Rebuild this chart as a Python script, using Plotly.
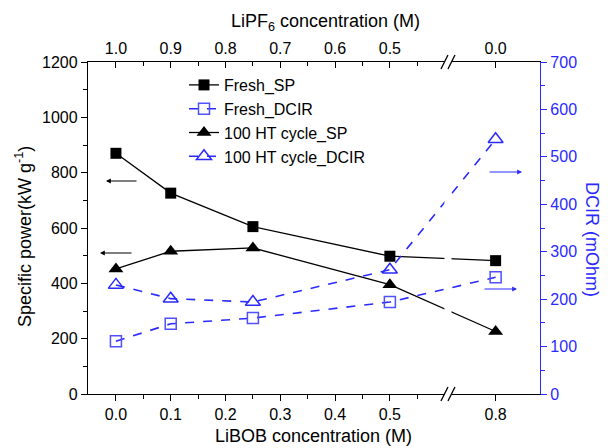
import plotly.graph_objects as go

# ---- data ----
libob = [0.0, 0.1, 0.25, 0.5, 0.8]
fresh_sp = [870, 726, 605, 498, 482]
ht_sp = [452, 516, 528, 395, 226]
fresh_dcir = [111, 148, 160, 194, 246]
ht_dcir = [230, 201, 194, 262, 537]

bottom_ticks = [0.0, 0.1, 0.2, 0.3, 0.4, 0.5, 0.8]
bottom_labels = ["0.0", "0.1", "0.2", "0.3", "0.4", "0.5", "0.8"]
top_labels = ["1.0", "0.9", "0.8", "0.7", "0.6", "0.5", "0.0"]

# axis break: values above 0.6 are shifted left
BREAK_AT = 0.606
SHIFT = 0.107
def xpos(v):
    return v if v <= 0.6 else v - SHIFT

X = [xpos(v) for v in libob]
TV = [xpos(v) for v in bottom_ticks]

L, R, T, B = 88, 68, 62, 54
W, H = 608, 448
PW, PH = W - L - R, H - T - B
def px(x):
    return (x - L) / PW
def py(y):
    return (H - B - y) / PH

BLUE = "#2a2aff"
FONT = "Liberation Sans, Arial, sans-serif"

fig = go.Figure()
fig.add_trace(go.Scatter(x=X, y=fresh_sp, name="Fresh_SP", mode="lines+markers",
                         line=dict(color="black", width=1.3),
                         marker=dict(symbol="square", size=11, color="black")))
fig.add_trace(go.Scatter(x=X, y=fresh_dcir, name="Fresh_DCIR", mode="lines+markers", yaxis="y2",
                         line=dict(color=BLUE, width=1.6, dash="dash"),
                         marker=dict(symbol="square-open", size=11, color="#5050ff", line=dict(width=1.5))))
fig.add_trace(go.Scatter(x=X, y=ht_sp, name="100 HT cycle_SP", mode="lines+markers",
                         line=dict(color="black", width=1.3),
                         marker=dict(symbol="triangle-up", size=13, color="black")))
fig.add_trace(go.Scatter(x=X, y=ht_dcir, name="100 HT cycle_DCIR", mode="lines+markers", yaxis="y2",
                         line=dict(color=BLUE, width=1.6, dash="dash"),
                         marker=dict(symbol="triangle-up-open", size=13, color=BLUE, line=dict(width=1.5))))
# invisible trace to activate top axis
fig.add_trace(go.Scatter(x=[TV[0], TV[-1]], y=[None, None], xaxis="x2", showlegend=False,
                         hoverinfo="skip"))

tickfont = dict(family=FONT, size=16, color="black")
xr = [-0.051, 0.774]
minor_vals = [0.05, 0.15, 0.25, 0.35, 0.45, 0.55]

fig.update_layout(
    width=W, height=H,
    margin=dict(l=L, r=R, t=T, b=B),
    paper_bgcolor="white", plot_bgcolor="white",
    font=dict(family=FONT, size=16, color="black"),
    xaxis=dict(range=xr, tickmode="array", tickvals=TV, ticktext=bottom_labels,
               showline=True, linecolor="black", linewidth=1.3, ticks="outside",
               ticklen=6, tickwidth=1.2, tickcolor="black", showgrid=False, zeroline=False,
               tickfont=tickfont,
               minor=dict(tickmode="array", tickvals=minor_vals, ticks="outside", ticklen=4,
                          tickcolor="black", tickwidth=1.2, showgrid=False)),
    xaxis2=dict(range=xr, overlaying="x", side="top", tickmode="array", tickvals=TV,
                ticktext=top_labels, showline=True, linecolor="black", linewidth=1.3,
                ticks="inside", ticklen=6, tickwidth=1.2, tickcolor="black", showgrid=False,
                zeroline=False, tickfont=tickfont,
                minor=dict(tickmode="array", tickvals=minor_vals, ticks="inside", ticklen=4,
                           tickcolor="black", tickwidth=1.2, showgrid=False)),
    yaxis=dict(range=[0, 1200], dtick=200, showline=True, linecolor="black", linewidth=1.3,
               ticks="outside", ticklen=6, tickwidth=1.2, tickcolor="black", showgrid=False,
               zeroline=False, tickfont=tickfont,
               minor=dict(dtick=100, ticks="outside", ticklen=4, tickcolor="black",
                          tickwidth=1.2, showgrid=False)),
    yaxis2=dict(range=[0, 700], dtick=100, overlaying="y", side="right", showline=True,
                linecolor=BLUE, linewidth=1.3, ticks="outside", ticklen=6, tickwidth=1.2,
                tickcolor=BLUE, showgrid=False, zeroline=False,
                tickfont=dict(family=FONT, size=16, color=BLUE),
                minor=dict(dtick=50, ticks="outside", ticklen=4, tickcolor=BLUE,
                           tickwidth=1.2, showgrid=False)),
    legend=dict(x=px(184), y=py(68), xanchor="left", yanchor="top",
                bgcolor="rgba(0,0,0,0)", font=dict(family=FONT, size=16, color="black"),
                tracegroupgap=0, itemwidth=30),
    showlegend=True,
)

# axis titles
ann = [
    dict(text="LiBOB concentration (M)", x=px(313), y=py(436), font=dict(size=18)),
    dict(text="LiPF<sub>6</sub> concentration (M)", x=px(325), y=py(22), font=dict(size=18)),
    dict(text="Specific power(kW g<sup>-1</sup>)", x=px(23), y=py(237), textangle=-90, font=dict(size=18)),
    dict(text="DCIR (mOhm)", x=px(592), y=py(239), textangle=90, font=dict(size=18, color=BLUE)),
]
for a in ann:
    fig.add_annotation(xref="paper", yref="paper", showarrow=False, xanchor="center",
                       yanchor="middle", font=dict(family=FONT, size=a["font"]["size"],
                                                   color=a["font"].get("color", "black")),
                       text=a["text"], x=a["x"], y=a["y"], textangle=a.get("textangle", 0))

# arrows indicating axes
arrows = [
    (106, 181, 138, 181, "black"),
    (100, 253, 133, 253, "black"),
    (522, 172, 488, 172, BLUE),
    (517, 289, 483, 289, BLUE),
]
for hx, hy, tx, ty, c in arrows:
    fig.add_annotation(xref="paper", yref="paper", x=px(hx), y=py(hy), ax=tx - hx, ay=ty - hy,
                       text="", showarrow=True, arrowhead=2, arrowsize=0.8, arrowwidth=1.2,
                       arrowcolor=c)

# axis break gap and slashes
fig.add_shape(type="rect", xref="x", yref="paper", xsizemode="pixel", xanchor=BREAK_AT,
              x0=-3.5, x1=3.5, y0=-0.02, y1=1.02, fillcolor="white", line=dict(width=0),
              layer="above")
for yanc in (0, 1):
    for off in (-3.5, 3.5):
        fig.add_shape(type="line", xref="x", yref="paper", xsizemode="pixel", ysizemode="pixel",
                      xanchor=BREAK_AT, yanchor=yanc, x0=off - 3.5, x1=off + 3.5, y0=-7, y1=7,
                      line=dict(color="black", width=1.3), layer="above")

fig.write_html("out.html", config={"displayModeBar": False},
               post_script="document.body.style.margin='0';document.body.style.overflow='hidden';")
